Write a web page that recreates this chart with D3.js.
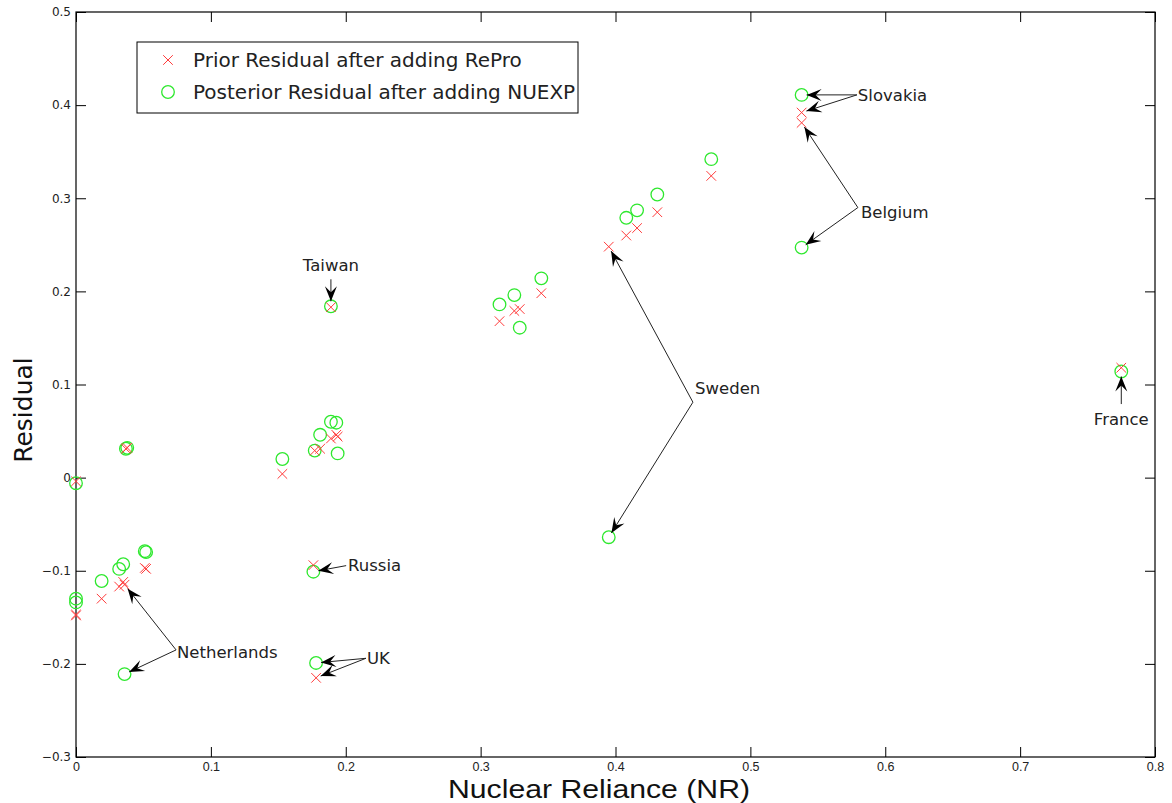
<!DOCTYPE html>
<html>
<head>
<meta charset="utf-8">
<script src="https://cdn.jsdelivr.net/npm/d3@7"></script>
<style>
  body { margin: 0; background: #fff; }
  svg { display: block; }
</style>
</head>
<body>
<div class="container"></div>
<script>
// nuclear reliance of each country (shared by both series)
var nr = [0.000, 0.000, 0.000, 0.019, 0.032, 0.035, 0.036, 0.051, 0.052, 0.037, 0.038,
    0.153, 0.177, 0.181, 0.189, 0.193, 0.194, 0.189, 0.176, 0.178,
    0.314, 0.325, 0.329, 0.345, 0.395, 0.408, 0.416, 0.431, 0.471, 0.538, 0.538, 0.775];
var priorRes = [-0.004, -0.148, -0.147, -0.130, -0.117, -0.112, -0.115, -0.097, -0.098, 0.031, 0.032,
    0.004, 0.029, 0.031, 0.042, 0.046, 0.044, 0.183, -0.094, -0.215,
    0.168, 0.179, 0.181, 0.198, 0.248, 0.260, 0.268, 0.285, 0.324, 0.392, 0.381, 0.118];
var postRes = [-0.006, -0.130, -0.134, -0.111, -0.098, -0.093, -0.211, -0.079, -0.080, 0.031, 0.032,
    0.020, 0.029, 0.046, 0.060, 0.059, 0.026, 0.184, -0.101, -0.199,
    0.186, 0.196, 0.161, 0.214, -0.064, 0.279, 0.287, 0.304, 0.342, 0.411, 0.247, 0.114];

var xTicks = [0, 0.1, 0.2, 0.3, 0.4, 0.5, 0.6, 0.7, 0.8];
var yTicks = [-0.3, -0.2, -0.1, 0, 0.1, 0.2, 0.3, 0.4, 0.5];
var legendLabels = ['Prior Residual after adding RePro', 'Posterior Residual after adding NUEXP'];

// label, text position, anchor, arrow tail, targets [point index, series]
var notes = [
    {label: 'Taiwan', tx: 0.189, ty: 0.228, anchor: 'middle', ax: 0.189, ay: 0.213, targets: [[17, 'post']]},
    {label: 'Russia', tx: 0.2017, ty: -0.0945, anchor: 'start', ax: 0.2003, ay: -0.0945, targets: [[18, 'post']]},
    {label: 'UK', tx: 0.2158, ty: -0.194, anchor: 'start', ax: 0.2150, ay: -0.194, targets: [[19, 'post'], [19, 'prior']]},
    {label: 'Netherlands', tx: 0.0749, ty: -0.188, anchor: 'start', ax: 0.0742, ay: -0.185, targets: [[6, 'prior'], [6, 'post']]},
    {label: 'Sweden', tx: 0.459, ty: 0.0956, anchor: 'start', ax: 0.4574, ay: 0.081, targets: [[24, 'prior'], [24, 'post']]},
    {label: 'Belgium', tx: 0.582, ty: 0.2846, anchor: 'start', ax: 0.5797, ay: 0.290, targets: [[30, 'prior'], [30, 'post']]},
    {label: 'Slovakia', tx: 0.5797, ty: 0.411, anchor: 'start', ax: 0.5790, ay: 0.411, targets: [[29, 'post'], [29, 'prior']]},
    {label: 'France', tx: 0.775, ty: 0.063, anchor: 'middle', ax: 0.775, ay: 0.079, targets: [[31, 'post']]}
];

var visualize = function () {
    const WIDTH = 1172, HEIGHT = 803;
    const LEFT = 76, RIGHT = 1155, TOP = 12, BOTTOM = 757;
    const TICK = 10;

    var svg = d3.select('.container').append('svg')
        .attr('width', WIDTH).attr('height', HEIGHT);

    var xScale = d3.scaleLinear().domain([0, 0.8]).range([LEFT, RIGHT]);
    var yScale = d3.scaleLinear().domain([-0.3, 0.5]).range([BOTTOM, TOP]);

    // box
    svg.append('rect')
        .attr('x', LEFT).attr('y', TOP)
        .attr('width', RIGHT - LEFT).attr('height', BOTTOM - TOP)
        .attr('fill', 'none').attr('stroke', '#000').attr('stroke-width', 1.2);

    // axes with inward ticks
    var fmt = function (d) { return d === 0 ? '0' : d3.format('.1f')(d); };
    var xAxis = svg.append('g').attr('transform', 'translate(0,' + BOTTOM + ')')
        .call(d3.axisBottom(xScale).tickValues(xTicks).tickFormat(fmt).tickSizeInner(-TICK).tickSizeOuter(0));
    var xAxisTop = svg.append('g').attr('transform', 'translate(0,' + TOP + ')')
        .call(d3.axisTop(xScale).tickValues(xTicks).tickFormat('').tickSizeInner(-TICK).tickSizeOuter(0));
    var yAxis = svg.append('g').attr('transform', 'translate(' + LEFT + ',0)')
        .call(d3.axisLeft(yScale).tickValues(yTicks).tickFormat(fmt).tickSizeInner(-TICK).tickSizeOuter(0).tickPadding(5));
    var yAxisRight = svg.append('g').attr('transform', 'translate(' + RIGHT + ',0)')
        .call(d3.axisRight(yScale).tickValues(yTicks).tickFormat('').tickSizeInner(-TICK).tickSizeOuter(0));

    [xAxis, xAxisTop, yAxis, yAxisRight].forEach(function (g) {
        g.select('.domain').remove();
        g.selectAll('.tick line').attr('stroke', '#000').attr('stroke-width', 1);
    });
    xAxis.selectAll('.tick text')
        .attr('font-family', 'Liberation Sans Narrow, Liberation Sans, sans-serif')
        .attr('font-size', 12.5).attr('fill', '#222')
        .attr('y', 5).attr('dy', '0.71em');
    yAxis.selectAll('.tick text')
        .attr('font-family', 'DejaVu Sans, sans-serif')
        .attr('font-size', 12).attr('fill', '#222');

    // axis titles
    svg.append('text')
        .attr('x', 599).attr('y', 798)
        .attr('text-anchor', 'middle')
        .attr('font-family', 'Liberation Sans Narrow, Liberation Sans, sans-serif')
        .attr('font-size', 25).attr('fill', '#111')
        .attr('textLength', 302).attr('lengthAdjust', 'spacingAndGlyphs')
        .text('Nuclear Reliance (NR)');
    svg.append('text')
        .attr('transform', 'translate(32,410) rotate(-90)')
        .attr('text-anchor', 'middle')
        .attr('font-family', 'DejaVu Sans, sans-serif')
        .attr('font-size', 25).attr('fill', '#111')
        .text('Residual');

    var data = nr.map(function (x, i) { return {x: x, prior: priorRes[i], post: postRes[i]}; });

    var plot = svg.append('g');
    var RED = '#ff3b3b', GREEN = '#2ee82e';

    var drawCross = function (g, cx, cy) {
        var s = 4.8;
        g.append('path')
            .attr('d', 'M' + (cx - s) + ',' + (cy - s) + 'L' + (cx + s) + ',' + (cy + s) +
                'M' + (cx - s) + ',' + (cy + s) + 'L' + (cx + s) + ',' + (cy - s))
            .attr('stroke', RED).attr('stroke-width', 1).attr('fill', 'none');
    };
    var drawCircle = function (g, cx, cy) {
        g.append('circle').attr('cx', cx).attr('cy', cy).attr('r', 6.3)
            .attr('fill', 'none').attr('stroke', GREEN).attr('stroke-width', 1.3);
    };

    var greens = plot.append('g').classed('posterior', true);
    var reds = plot.append('g').classed('prior', true);
    data.forEach(function (d) {
        drawCircle(greens, xScale(d.x), yScale(d.post));
        drawCross(reds, xScale(d.x), yScale(d.prior));
    });

    // annotations
    var ann = svg.append('g').classed('annotations', true);
    var arrow = function (x1, y1, x2, y2) {
        var ang = Math.atan2(y2 - y1, x2 - x1);
        ann.append('line').attr('x1', x1).attr('y1', y1).attr('x2', x2).attr('y2', y2)
            .attr('stroke', '#222').attr('stroke-width', 1);
        var L = 15, W = 6, notch = 9;
        var head = 'M0,0L' + (-L) + ',' + (-W) + 'L' + (-notch) + ',0L' + (-L) + ',' + W + 'Z';
        ann.append('path').attr('d', head)
            .attr('transform', 'translate(' + x2 + ',' + y2 + ') rotate(' + (ang * 180 / Math.PI) + ')')
            .attr('fill', '#000');
    };

    notes.forEach(function (n) {
        var x1 = xScale(n.ax), y1 = yScale(n.ay);
        n.targets.forEach(function (t) {
            var d = data[t[0]];
            var px = xScale(d.x), py = yScale(d[t[1]]);
            var dx = x1 - px, dy = y1 - py, len = Math.sqrt(dx * dx + dy * dy);
            var off = 5;
            arrow(x1, y1, px + dx / len * off, py + dy / len * off);
        });
        ann.append('text')
            .attr('x', xScale(n.tx)).attr('y', yScale(n.ty))
            .attr('dy', '0.35em')
            .attr('text-anchor', n.anchor)
            .attr('font-family', 'DejaVu Sans, sans-serif')
            .attr('font-size', 16.5).attr('fill', '#222')
            .text(n.label);
    });

    // legend
    var lg = svg.append('g').attr('transform', 'translate(137,42)');
    lg.append('rect').attr('width', 441).attr('height', 71)
        .attr('fill', '#fff').attr('stroke', '#000').attr('stroke-width', 1);
    legendLabels.forEach(function (label, i) {
        var cy = 18 + i * 32;
        if (i === 0) drawCross(lg, 31, cy); else drawCircle(lg, 31, cy);
        lg.append('text').attr('x', 56).attr('y', cy).attr('dy', '0.35em')
            .attr('font-family', 'DejaVu Sans, sans-serif')
            .attr('font-size', 20).attr('fill', '#222')
            .text(label);
    });
};

window.onload = visualize;
</script>
</body>
</html>
